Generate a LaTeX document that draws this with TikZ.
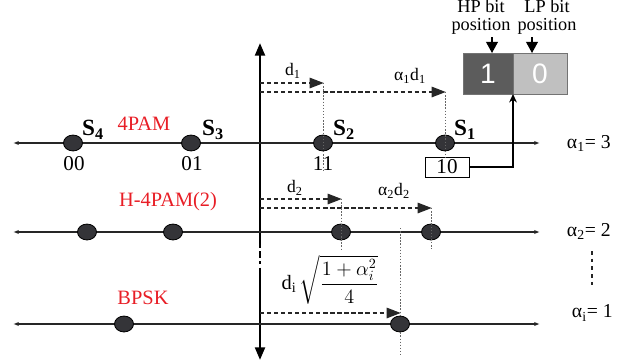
\documentclass[tikz,border=0pt]{standalone}
\usepackage{amsmath}
\usepackage{fontspec}
\setmainfont{Liberation Serif}
\newfontfamily\bitfont{Liberation Sans}
\usepackage{xcolor}
\usepackage{tikz}
\usetikzlibrary{arrows.meta,positioning,calc,shapes.geometric}
\definecolor{pamred}{RGB}{232,30,38}
\definecolor{ptfill}{RGB}{52,52,56}
\definecolor{hpgray}{RGB}{92,92,92}
\definecolor{lpgray}{RGB}{192,192,192}
\tikzset{
  rowline/.style={draw=black!85, line width=1pt, {Latex[length=4pt,width=3pt]}-{Latex[length=4pt,width=3pt]}},
  vaxis/.style={draw=black, line width=1.8pt, -{Triangle[length=9pt,width=7pt]}},
  vbreak/.style={draw=black, line width=1.8pt, dash pattern=on 2pt off 2.5pt on 4.5pt off 2.5pt},
  dimarrow/.style={draw=black!85, line width=0.8pt, dash pattern=on 3pt off 2pt, -{Triangle[length=10pt,width=7.5pt,sep=-0.5pt]}},
  guide/.style={draw=black!60, line width=0.4pt, dash pattern=on 1pt off 1.2pt},
  feed/.style={draw=black, line width=2pt, -{Stealth[length=6pt,width=5.5pt]}},
  bitarrow/.style={draw=black, line width=1pt, -{Triangle[length=8pt,width=8.5pt]}},
  vdots/.style={draw=black!85, line width=1.8pt, dash pattern=on 2.5pt off 3pt},
  pt/.style={ellipse, draw=black, line width=0.6pt, fill=ptfill, minimum width=13.5pt, minimum height=11.3pt, inner sep=0pt},
  tenbox/.style={draw=black, line width=0.7pt, fill=white, minimum width=1.1cm, minimum height=0.5cm, inner sep=0pt, font=\fontsize{15}{17}\selectfont},
  bitcell/.style={draw=black!55, line width=0.5pt, outer sep=0pt, minimum height=1.025cm, inner sep=0pt, text=white, font=\bitfont\fontsize{20}{22}\selectfont},
  rowlabel/.style={font=\fontsize{14.5}{16}\selectfont, text=pamred},
  symlabel/.style={font=\fontsize{16.5}{18}\selectfont\bfseries},
  bitslabel/.style={font=\fontsize{15}{17}\selectfont},
  alphalabel/.style={font=\fontsize{14}{16}\selectfont, anchor=west},
  dimlabel/.style={font=\fontsize{12.5}{14}\selectfont},
  toplabel/.style={font=\fontsize{13}{12.8}\selectfont, align=center, inner sep=2pt}
}

\begin{document}
\begin{tikzpicture}[x=0.025cm,y=-0.025cm]
  \useasboundingbox (0,0) rectangle (637,362);

  % vertical axis
  \coordinate (vtop) at (260,43);
  \coordinate (vbrkA) at (260,245);
  \coordinate (vbrkB) at (260,273);
  \coordinate (vbot) at (260,360);
  \draw[vaxis] (vbrkA) -- (vtop);
  \draw[vbreak] (vbrkA) -- (vbrkB);
  \draw[vaxis] (vbrkB) -- (vbot);

  % 4PAM row
  \coordinate (rowAl) at (13,143);
  \coordinate (rowAr) at (540,143);
  \draw[rowline] (rowAl) -- (rowAr);
  \node[pt] (s4) at (73,143) {};
  \node[pt] (s3) at (191,143) {};
  \node[pt] (s2) at (323,143) {};
  \node[pt] (s1) at (445,143) {};
  \node[rowlabel] (pamA) at (144,124) {4PAM};
  \node[symlabel] (lbls4) at (93,130) {S\textsubscript{4}};
  \node[symlabel] (lbls3) at (213,130) {S\textsubscript{3}};
  \node[symlabel] (lbls2) at (344,130) {S\textsubscript{2}};
  \node[symlabel] (lbls1) at (465,130) {S\textsubscript{1}};
  \node[bitslabel] (bits00) at (74,164) {00};
  \node[bitslabel] (bits01) at (192,164) {01};
  \node[bitslabel] (bits11) at (323,164) {11};
  \node[tenbox] (ten) at (447,167) {10};
  \node[alphalabel] (alphaA) at (562,143) {α\textsubscript{1}= 3};

  \coordinate (dA) at (260,83);
  \coordinate (dAA) at (260,92);
  \draw[dimarrow] (dA) -- (s2 |- dA);
  \draw[dimarrow] (dAA) -- (s1 |- dAA);
  \node[dimlabel] (lblda) at (293,71) {d\textsubscript{1}};
  \node[dimlabel] (lbldaa) at (410,76) {α\textsubscript{1}d\textsubscript{1}};

  % bit positions
  \node[bitcell, fill=hpgray, minimum width=1.25cm] (hpbox) at (488,73.5) {1};
  \node[bitcell, fill=lpgray, minimum width=1.35cm, right=0pt of hpbox] (lpbox) {0};
  \node[toplabel] (hplab) at (481,17) {HP bit\\position};
  \node[toplabel] (lplab) at (547,17) {LP bit\\position};
  \coordinate (hptip) at (492,53);
  \coordinate (lptip) at (532,53);
  \draw[bitarrow] (hptip |- hplab.south) -- (hptip);
  \draw[bitarrow] (lptip |- lplab.south) -- (lptip);
  \draw[feed] (ten.east) -| (hpbox.south east);

  % H-4PAM(2) row
  \coordinate (rowBl) at (13,232);
  \coordinate (rowBr) at (540,232);
  \draw[rowline] (rowBl) -- (rowBr);
  \node[pt] (h4) at (87,232) {};
  \node[pt] (h3) at (173,232) {};
  \node[pt] (h2) at (341,232) {};
  \node[pt] (h1) at (431,232) {};
  \node[rowlabel] (pamB) at (168,202) {H-4PAM(2)};
  \node[alphalabel] (alphaB) at (562,231) {α\textsubscript{2}= 2};

  \coordinate (dB) at (260,199);
  \coordinate (dBB) at (260,208);
  \draw[dimarrow] (dB) -- (h2 |- dB);
  \draw[dimarrow] (dBB) -- (h1 |- dBB);
  \node[dimlabel] (lbldb) at (295,188) {d\textsubscript{2}};
  \node[dimlabel] (lbldbb) at (394,191) {α\textsubscript{2}d\textsubscript{2}};

  % BPSK row
  \coordinate (rowCl) at (13,324);
  \coordinate (rowCr) at (540,324);
  \draw[rowline] (rowCl) -- (rowCr);
  \node[pt] (b2) at (124,324) {};
  \node[pt] (b1) at (400,324) {};
  \node[rowlabel] (pamC) at (143,298) {BPSK};
  \node[alphalabel] (alphaC) at (567,313) {α\textsubscript{i}= 1};

  \coordinate (dC) at (260,313);
  \draw[dimarrow] (dC) -- (b1 |- dC);
  \node[dimlabel, font=\fontsize{14.5}{16}\selectfont] (lbldc) at (330,280) {d\textsubscript{i}\,$\sqrt{\dfrac{1+\alpha_i^2}{4}}$};

  \coordinate (dotsA) at (592,251);
  \coordinate (dotsB) at (592,288);
  \draw[vdots] (dotsA) -- (dotsB);

  % guide lines
  \draw[guide] (s2 |- dA) -- (323,171);
  \draw[guide] (s1 |- dAA) -- (445,158);
  \draw[guide] (h2 |- dB) -- (341,251);
  \draw[guide] (h1 |- dBB) -- (431,249);
  \draw[guide] (400,228) -- (b1) -- (400,355);
\end{tikzpicture}
\end{document}
